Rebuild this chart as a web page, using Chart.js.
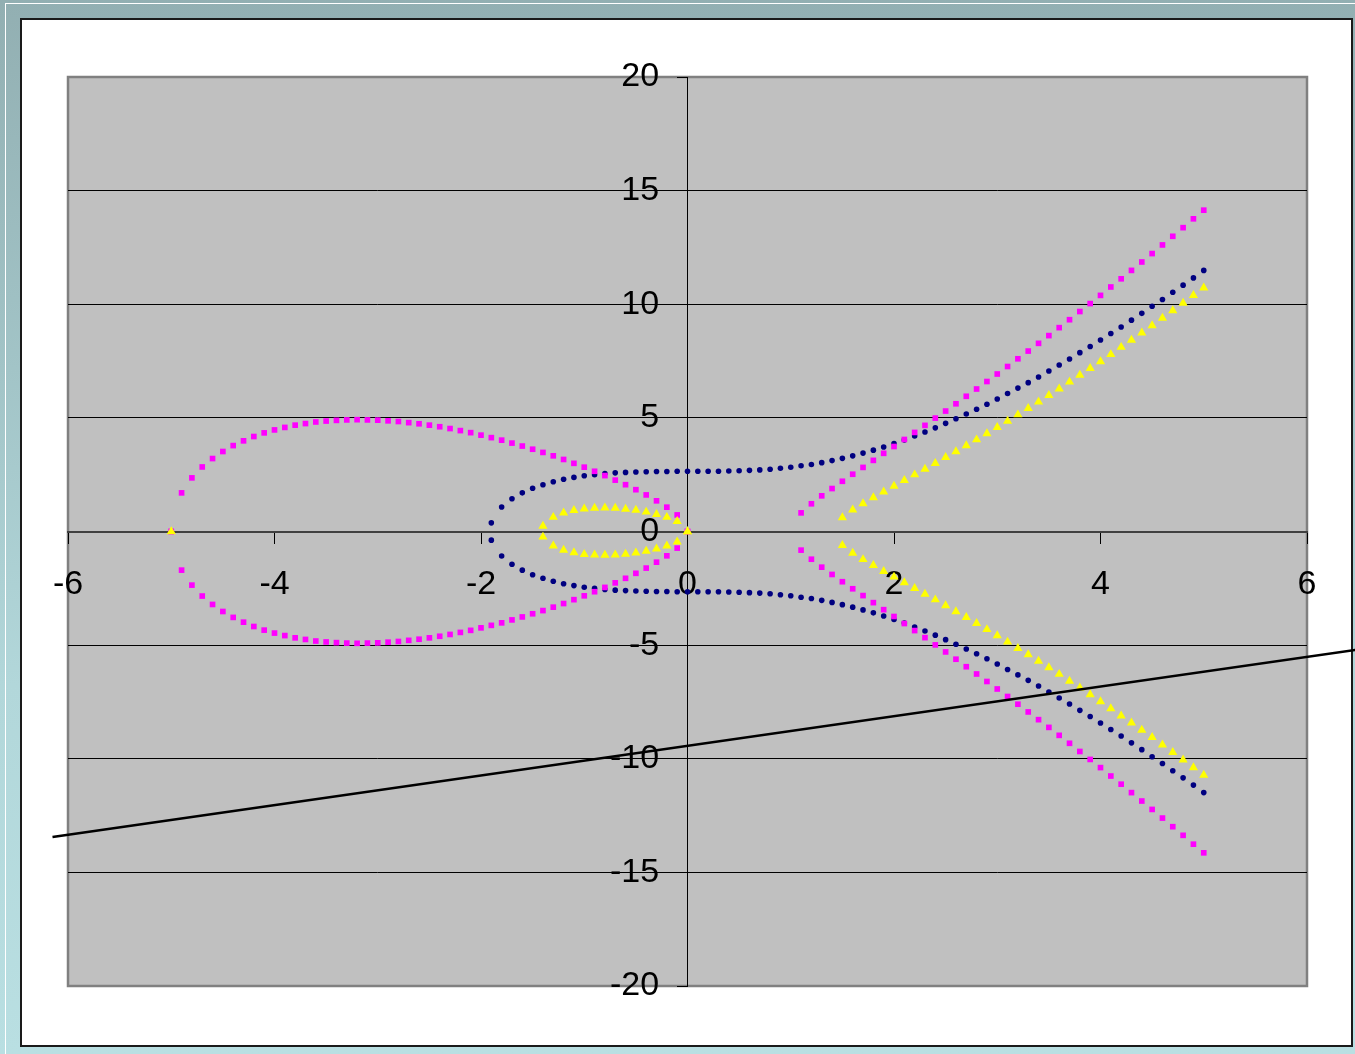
<!DOCTYPE html>
<html>
<head>
<meta charset="utf-8">
<script src="https://cdn.jsdelivr.net/npm/chart.js@4.4.1/dist/chart.umd.min.js"></script>
<style>
  html, body { margin: 0; padding: 0; width: 1355px; height: 1054px; overflow: hidden; }
  body { background: linear-gradient(to bottom, #92AFB2 0%, #A2C4C7 35%, #B2D7DA 65%, #B9DFE2 100%); position: relative; }
  #wline { position: absolute; left: 5px; top: 3px; width: 1400px; height: 1100px; border-left: 1px solid #FFFFFF; border-top: 1px solid #FFFFFF; }
  #box { position: absolute; left: 20px; top: 18px; width: 1329px; height: 1025px; background: #FFFFFF; border: 2px solid #1A1A1A; }
  #c { position: absolute; left: 0; top: 0; }
</style>
</head>
<body>
<div id="wline"></div>
<div id="box"></div>
<canvas id="c" width="1355" height="1054"></canvas>
<script>
// ---- data ----
const blueX = [-1.9,-1.8,-1.7,-1.6,-1.5,-1.4,-1.3,-1.2,-1.1,-1,-0.9,-0.8,-0.7,-0.6,-0.5,-0.4,-0.3,-0.2,-0.1,0,0.1,0.2,0.3,0.4,0.5,0.6,0.7,0.8,0.9,1,1.1,1.2,1.3,1.4,1.5,1.6,1.7,1.8,1.9,2,2.1,2.2,2.3,2.4,2.5,2.6,2.7,2.8,2.9,3,3.1,3.2,3.3,3.4,3.5,3.6,3.7,3.8,3.9,4,4.1,4.2,4.3,4.4,4.5,4.6,4.7,4.8,4.9,5];
const blueUpper = [0.38,1.08,1.44,1.70,1.90,2.06,2.19,2.30,2.38,2.45,2.50,2.55,2.58,2.60,2.62,2.63,2.64,2.64,2.65,2.65,2.65,2.65,2.65,2.66,2.67,2.69,2.71,2.74,2.78,2.83,2.89,2.95,3.03,3.12,3.22,3.33,3.45,3.58,3.72,3.87,4.03,4.20,4.38,4.56,4.76,4.96,5.17,5.38,5.60,5.83,6.07,6.31,6.55,6.80,7.06,7.33,7.59,7.87,8.14,8.43,8.71,9.00,9.30,9.60,9.91,10.21,10.53,10.84,11.16,11.49];
const blueLower = [-0.38,-1.08,-1.44,-1.70,-1.90,-2.06,-2.19,-2.30,-2.38,-2.45,-2.50,-2.55,-2.58,-2.60,-2.62,-2.63,-2.64,-2.64,-2.65,-2.65,-2.65,-2.65,-2.65,-2.66,-2.67,-2.69,-2.71,-2.74,-2.78,-2.83,-2.89,-2.95,-3.03,-3.12,-3.22,-3.33,-3.45,-3.58,-3.72,-3.87,-4.03,-4.20,-4.38,-4.56,-4.76,-4.96,-5.17,-5.38,-5.60,-5.83,-6.07,-6.31,-6.55,-6.80,-7.06,-7.33,-7.59,-7.87,-8.14,-8.43,-8.71,-9.00,-9.30,-9.60,-9.91,-10.21,-10.53,-10.84,-11.16,-11.49];

const magentaLeftX = [-5,-4.9,-4.8,-4.7,-4.6,-4.5,-4.4,-4.3,-4.2,-4.1,-4,-3.9,-3.8,-3.7,-3.6,-3.5,-3.4,-3.3,-3.2,-3.1,-3,-2.9,-2.8,-2.7,-2.6,-2.5,-2.4,-2.3,-2.2,-2.1,-2,-1.9,-1.8,-1.7,-1.6,-1.5,-1.4,-1.3,-1.2,-1.1,-1,-0.9,-0.8,-0.7,-0.6,-0.5,-0.4,-0.3,-0.2,-0.1,0];
const magentaLeftUpper = [0,1.70,2.36,2.84,3.21,3.52,3.78,3.99,4.18,4.34,4.47,4.58,4.68,4.75,4.82,4.86,4.89,4.91,4.92,4.91,4.90,4.87,4.84,4.79,4.74,4.68,4.61,4.53,4.44,4.35,4.24,4.13,4.02,3.89,3.76,3.62,3.48,3.33,3.17,3.00,2.83,2.65,2.46,2.26,2.06,1.84,1.61,1.35,1.07,0.73,0];
const magentaLeftLower = [0,-1.70,-2.36,-2.84,-3.21,-3.52,-3.78,-3.99,-4.18,-4.34,-4.47,-4.58,-4.68,-4.75,-4.82,-4.86,-4.89,-4.91,-4.92,-4.91,-4.90,-4.87,-4.84,-4.79,-4.74,-4.68,-4.61,-4.53,-4.44,-4.35,-4.24,-4.13,-4.02,-3.89,-3.76,-3.62,-3.48,-3.33,-3.17,-3.00,-2.83,-2.65,-2.46,-2.26,-2.06,-1.84,-1.61,-1.35,-1.07,-0.73,0];
const magentaRightX = [1.1,1.2,1.3,1.4,1.5,1.6,1.7,1.8,1.9,2,2.1,2.2,2.3,2.4,2.5,2.6,2.7,2.8,2.9,3,3.1,3.2,3.3,3.4,3.5,3.6,3.7,3.8,3.9,4,4.1,4.2,4.3,4.4,4.5,4.6,4.7,4.8,4.9,5];
const magentaRightUpper = [0.82,1.22,1.57,1.89,2.21,2.52,2.82,3.13,3.44,3.74,4.05,4.36,4.67,4.99,5.30,5.62,5.95,6.27,6.60,6.93,7.26,7.60,7.94,8.28,8.62,8.97,9.32,9.68,10.03,10.39,10.76,11.12,11.49,11.86,12.23,12.61,12.99,13.37,13.76,14.14];
const magentaRightLower = [-0.82,-1.22,-1.57,-1.89,-2.21,-2.52,-2.82,-3.13,-3.44,-3.74,-4.05,-4.36,-4.67,-4.99,-5.30,-5.62,-5.95,-6.27,-6.60,-6.93,-7.26,-7.60,-7.94,-8.28,-8.62,-8.97,-9.32,-9.68,-10.03,-10.39,-10.76,-11.12,-11.49,-11.86,-12.23,-12.61,-12.99,-13.37,-13.76,-14.14];

const yellowLeftX = [-1.4,-1.3,-1.2,-1.1,-1,-0.9,-0.8,-0.7,-0.6,-0.5,-0.4,-0.3,-0.2,-0.1,0];
const yellowLeftUpper = [0.24,0.63,0.82,0.93,1.00,1.03,1.04,1.03,0.99,0.94,0.86,0.76,0.63,0.45,0];
const yellowLeftLower = [-0.24,-0.63,-0.82,-0.93,-1.00,-1.03,-1.04,-1.03,-0.99,-0.94,-0.86,-0.76,-0.63,-0.45,0];
const yellowRightX = [1.5,1.6,1.7,1.8,1.9,2,2.1,2.2,2.3,2.4,2.5,2.6,2.7,2.8,2.9,3,3.1,3.2,3.3,3.4,3.5,3.6,3.7,3.8,3.9,4,4.1,4.2,4.3,4.4,4.5,4.6,4.7,4.8,4.9,5];
const yellowRightUpper = [0.61,0.95,1.23,1.49,1.75,2.00,2.25,2.50,2.75,3.00,3.26,3.52,3.78,4.04,4.31,4.58,4.86,5.14,5.42,5.70,5.99,6.28,6.58,6.88,7.18,7.48,7.79,8.11,8.42,8.74,9.06,9.39,9.72,10.05,10.39,10.72];
const yellowRightLower = [-0.61,-0.95,-1.23,-1.49,-1.75,-2.00,-2.25,-2.50,-2.75,-3.00,-3.26,-3.52,-3.78,-4.04,-4.31,-4.58,-4.86,-5.14,-5.42,-5.70,-5.99,-6.28,-6.58,-6.88,-7.18,-7.48,-7.79,-8.11,-8.42,-8.74,-9.06,-9.39,-9.72,-10.05,-10.39,-10.72];
const yellowExtraX = [-5];
const yellowExtraY = [0];

const lineX = [-6.15, 6.8];
const lineY = [-13.44, -5.0];

const xTicks = [-6, -4, -2, 0, 2, 4, 6];
const yTicks = [-20, -15, -10, -5, 0, 5, 10, 15, 20];

// ---- build ----
function pts(xs, ys) { return xs.map((x, i) => ({x: x, y: ys[i]})); }

const C_NAVY = '#000080', C_MAG = '#FF00FF', C_YEL = '#FFFF00';
function ser(xs, ys, color, style, r) {
  return { data: pts(xs, ys), showLine: false, pointStyle: style, pointRadius: r, pointHoverRadius: r,
           pointBackgroundColor: color, pointBorderColor: color, pointBorderWidth: 0 };
}
const TRI = 5.3, SQ = 4.0, CIR = 2.8;

const datasets = [
  { data: pts(lineX, lineY), showLine: true, borderColor: '#000000', borderWidth: 2.5, pointRadius: 0, clip: false, fill: false },
  ser(yellowExtraX, yellowExtraY, C_YEL, 'triangle', TRI),
  ser(yellowLeftX, yellowLeftUpper, C_YEL, 'triangle', TRI),
  ser(yellowLeftX, yellowLeftLower, C_YEL, 'triangle', TRI),
  ser(yellowRightX, yellowRightUpper, C_YEL, 'triangle', TRI),
  ser(yellowRightX, yellowRightLower, C_YEL, 'triangle', TRI),
  ser(magentaLeftX, magentaLeftUpper, C_MAG, 'rect', SQ),
  ser(magentaLeftX, magentaLeftLower, C_MAG, 'rect', SQ),
  ser(magentaRightX, magentaRightUpper, C_MAG, 'rect', SQ),
  ser(magentaRightX, magentaRightLower, C_MAG, 'rect', SQ),
  ser(blueX, blueUpper, C_NAVY, 'circle', CIR),
  ser(blueX, blueLower, C_NAVY, 'circle', CIR)
];

const plotBg = {
  id: 'plotBg',
  beforeDraw(chart) {
    const a = chart.chartArea, ctx = chart.ctx;
    ctx.save();
    ctx.fillStyle = '#C0C0C0';
    ctx.fillRect(a.left, a.top, a.right - a.left, a.bottom - a.top);
    ctx.strokeStyle = '#808080';
    ctx.lineWidth = 2.5;
    ctx.strokeRect(a.left, a.top, a.right - a.left, a.bottom - a.top);
    ctx.restore();
  }
};

const FONT = { family: "'Liberation Sans', Arial, sans-serif", size: 34 };

new Chart(document.getElementById('c'), {
  type: 'scatter',
  data: { datasets },
  options: {
    responsive: false,
    animation: false,
    devicePixelRatio: 1,
    layout: { padding: { left: 68, top: 77, right: 48, bottom: 68 } },
    plugins: { legend: { display: false }, tooltip: { enabled: false } },
    events: [],
    scales: {
      x: {
        type: 'linear', min: -6, max: 6,
        position: { y: 0 },
        afterBuildTicks(s) { s.ticks = xTicks.map(v => ({ value: v })); },
        grid: { drawOnChartArea: false, drawTicks: true, tickLength: 11, tickColor: '#000000', tickWidth: 1 },
        border: { display: true, color: '#404040', width: 2 },
        ticks: { color: '#000000', font: FONT, padding: 22, maxRotation: 0, autoSkip: false }
      },
      y: {
        type: 'linear', min: -20, max: 20,
        position: { x: 0 },
        afterBuildTicks(s) { s.ticks = yTicks.map(v => ({ value: v })); },
        grid: {
          drawOnChartArea: true, drawTicks: true, tickLength: 10,
          color: c => (c.tick && Math.abs(c.tick.value) === 20) ? 'rgba(0,0,0,0)' : '#000000',
          lineWidth: 1, tickColor: '#000000'
        },
        border: { display: true, color: '#000000', width: 1 },
        ticks: { color: '#000000', font: FONT, padding: 16, autoSkip: false,
                 callback: v => String(v) + '   ' }
      }
    }
  },
  plugins: [plotBg]
});
</script>
</body>
</html>
